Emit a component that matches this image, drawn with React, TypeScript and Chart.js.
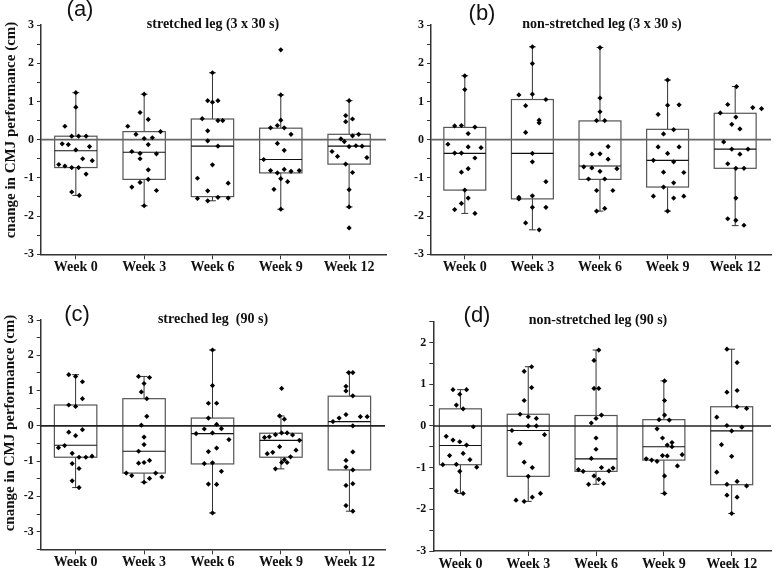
import React, { useEffect, useRef } from "react";
import { Chart, registerables } from "chart.js";
Chart.register(...registerables);

const WEEKS = ["Week 0", "Week 3", "Week 6", "Week 9", "Week 12"];
const Y_TITLE = "cnange in CMJ performance (cm)";

// box stats per week: [lower whisker, Q1, median, Q3, upper whisker]
const A_BOX = [
  [-1.46, -0.73, -0.29, 0.09, 1.23],
  [-1.73, -1.04, -0.33, 0.21, 1.19],
  [-1.6, -1.49, -0.17, 0.54, 1.75],
  [-1.82, -0.87, -0.52, 0.3, 1.17],
  [-1.76, -0.64, -0.17, 0.14, 1.02],
];
const B_BOX = [
  [-1.93, -1.32, -0.36, 0.32, 1.67],
  [-2.36, -1.55, -0.36, 1.05, 2.43],
  [-1.87, -1.04, -0.69, 0.49, 2.41],
  [-1.87, -1.24, -0.54, 0.27, 1.56],
  [-2.25, -0.75, -0.25, 0.69, 1.39],
];
const C_BOX = [
  [-1.75, -0.89, -0.55, 0.59, 1.45],
  [-1.6, -1.34, -0.72, 0.77, 1.4],
  [-2.47, -1.08, -0.22, 0.22, 2.15],
  [-1.22, -0.89, -0.41, -0.21, 0.28],
  [-2.42, -1.25, 0.12, 0.84, 1.51],
];
const D_BOX = [
  [-1.62, -0.93, -0.47, 0.41, 0.87],
  [-1.81, -1.21, -0.11, 0.28, 1.42],
  [-1.4, -1.09, -0.79, 0.25, 1.82],
  [-1.62, -0.82, -0.5, 0.15, 1.08],
  [-2.1, -1.41, -0.12, 0.46, 1.84],
];

// individual points: [horizontal jitter (category units), change (cm)]
const A_W0 = [[0,1.23],[0,0.85],[-0.16,0.35],[-0.06,0.09],[0.04,0.09],[0.15,0.09],[-0.2,-0.11],[-0.11,-0.13],[0,-0.27],[0.2,-0.18],[0.24,-0.55],[0.1,-0.5],[-0.25,-0.65],[-0.16,-0.69],[-0.06,-0.73],[0.04,-0.73],[0.15,-0.9],[-0.06,-1.37],[0.05,-1.46]];
const A_W3 = [[0,1.19],[-0.06,0.71],[0.06,0.53],[-0.24,0.35],[-0.12,0.14],[0.24,0.21],[0,0.03],[0.12,0.05],[0.06,-0.13],[-0.18,-0.31],[-0.06,-0.36],[0.18,-0.37],[-0.06,-0.5],[0.06,-0.79],[0.06,-1.04],[-0.06,-1.12],[-0.18,-1.24],[0.18,-1.33],[0,-1.73]];
const A_W6 = [[0,1.75],[-0.07,1.02],[0.08,1.02],[0,0.98],[-0.15,0.55],[0.08,0.5],[0.15,0.5],[-0.07,0.23],[-0.07,-0.03],[0.08,-0.17],[0,-0.66],[-0.22,-1.01],[0.23,-1.14],[-0.07,-1.34],[-0.22,-1.54],[-0.07,-1.6],[0.08,-1.51],[0.23,-1.53]];
const A_W9 = [[0,2.35],[0,1.17],[0,0.51],[-0.15,0.31],[-0.05,0.37],[0.05,0.31],[0.15,0.14],[-0.05,-0.1],[0.05,-0.28],[-0.25,-0.52],[-0.15,-0.81],[-0.05,-0.87],[0.05,-0.78],[0.15,-0.83],[0.27,-0.81],[0,-1.02],[0.1,-1.1],[-0.1,-1.3],[0,-1.82]];
const A_W12 = [[0,1.02],[-0.05,0.63],[0.05,0.54],[-0.05,0.47],[0.14,0.14],[-0.12,0.02],[-0.07,-0.05],[0.05,0.1],[0,-0.18],[0.1,-0.16],[0.19,-0.17],[-0.25,-0.31],[-0.17,-0.44],[0.26,-0.47],[-0.05,-0.64],[0.05,-0.86],[0,-1.31],[0,-1.76],[0,-2.31]];

const B_W0 = [[0,1.67],[0,1.31],[-0.15,0.36],[-0.05,0.37],[0.15,0.33],[0.05,0.16],[-0.25,-0.12],[0.05,-0.19],[0.24,-0.21],[-0.15,-0.35],[-0.05,-0.35],[0.15,-0.48],[0.05,-0.76],[-0.05,-0.85],[0,-1.32],[0.05,-1.53],[-0.05,-1.67],[-0.15,-1.83],[0.15,-1.93]];
const B_W3 = [[0,2.43],[0,1.99],[-0.2,1.17],[0,1.19],[0.2,1.05],[-0.1,0.89],[0.1,0.51],[0.1,0.44],[-0.1,0.19],[0,-0.36],[0,-0.58],[0.2,-1.1],[-0.2,-1.51],[-0.2,-1.55],[0,-1.47],[0,-1.77],[0.2,-1.77],[-0.1,-2.18],[0.1,-2.36]];
const B_W6 = [[0,2.41],[0,1.09],[0,0.73],[-0.05,0.5],[0.07,0.5],[0.12,-0.18],[-0.12,-0.38],[0,-0.37],[0.12,-0.51],[-0.24,-0.71],[-0.12,-0.74],[0.25,-0.76],[0,-0.83],[-0.17,-1.03],[0.07,-1.03],[-0.05,-1.33],[0.19,-1.33],[0.07,-1.8],[-0.05,-1.87]];
const B_W9 = [[0,1.56],[-0.14,0.66],[0,0.9],[0.17,0.91],[0.09,0.26],[-0.06,0.15],[-0.14,-0.19],[0.17,-0.19],[0,-0.36],[-0.21,-0.54],[0.09,-0.58],[-0.06,-0.85],[0.24,-0.86],[0.09,-1.13],[-0.06,-1.24],[-0.21,-1.48],[0.09,-1.53],[0.24,-1.48],[0,-1.87]];
const B_W12 = [[0.02,1.39],[-0.11,0.92],[0.26,0.84],[0.39,0.81],[-0.22,0.7],[0.01,0.59],[-0.05,0.4],[0.07,0.28],[-0.17,-0.06],[-0.05,-0.25],[0.19,-0.25],[0.07,-0.38],[-0.11,-0.63],[0.01,-0.75],[0.13,-0.75],[0.01,-1.53],[-0.11,-2.07],[0.01,-2.11],[0.13,-2.24]];

const C_W0 = [[-0.1,1.45],[0,1.4],[0.1,1.25],[0.1,0.77],[-0.1,0.59],[0,0.55],[0.1,-0.11],[-0.1,-0.18],[0,-0.28],[-0.25,-0.62],[-0.16,-0.56],[-0.05,-0.78],[0.05,-0.89],[0.15,-0.89],[0.24,-0.86],[-0.05,-1.07],[0.05,-1.21],[-0.05,-1.56],[0.05,-1.75]];
const C_W3 = [[-0.08,1.4],[0.08,1.37],[0,1.2],[-0.04,0.96],[0.04,0.77],[0.04,0.27],[-0.04,0.02],[0,-0.32],[0,-0.53],[-0.08,-0.72],[0.08,-0.98],[0,-1.04],[-0.08,-1.06],[-0.26,-1.34],[-0.18,-1.41],[0.17,-1.34],[0.08,-1.49],[0.26,-1.45],[0,-1.6]];
const C_W6 = [[0,2.15],[0,1.14],[-0.06,0.64],[0.06,0.64],[-0.06,0.22],[0.06,0.04],[0.13,-0.08],[-0.12,-0.09],[-0.24,-0.22],[0,-0.2],[0.24,-0.39],[0.06,-0.63],[-0.06,-0.73],[-0.12,-1.07],[0,-1.05],[0.13,-1.29],[-0.06,-1.65],[0.06,-1.66],[0,-2.47]];
const C_W9 = [[0.01,1.06],[-0.02,0.28],[0.05,0.19],[-0.24,-0.33],[-0.17,-0.31],[-0.08,-0.25],[0.01,-0.2],[0.09,-0.2],[0.17,-0.26],[0.27,-0.41],[-0.02,-0.59],[-0.2,-0.79],[-0.12,-0.75],[0.22,-0.69],[0.14,-0.88],[0.01,-1.04],[-0.08,-1.22],[0.05,-0.96],[0.09,-1.04]];
const C_W12 = [[-0.01,1.51],[0.05,1.51],[-0.05,1.12],[-0.05,0.99],[0.05,0.85],[-0.05,0.32],[-0.15,0.22],[-0.24,0.12],[0.16,0.26],[0.26,0.26],[0.05,0],[0.05,-0.74],[-0.05,-0.98],[-0.05,-1.17],[0.05,-1.25],[-0.05,-1.69],[0.05,-1.64],[-0.05,-2.26],[0.05,-2.42]];

const D_W0 = [[-0.11,0.87],[0.09,0.87],[-0.01,0.76],[-0.06,0.5],[0.04,0.41],[0.19,-0.02],[-0.21,-0.25],[-0.11,-0.34],[-0.01,-0.38],[0.09,-0.46],[-0.16,-0.71],[0.04,-0.66],[0.14,-0.81],[-0.26,-0.93],[-0.06,-0.92],[0.24,-0.99],[-0.01,-1.09],[-0.06,-1.56],[0.04,-1.62]];
const D_W3 = [[0.05,1.42],[-0.06,1.31],[0.05,0.92],[-0.06,0.61],[-0.12,0.28],[0,0.22],[0.12,0.18],[0,0],[0.12,0],[-0.24,-0.11],[0.24,-0.21],[-0.12,-0.42],[-0.06,-0.87],[0.06,-1.0],[0,-1.21],[0.18,-1.62],[0.06,-1.71],[-0.18,-1.78],[-0.06,-1.81]];
const D_W6 = [[0.04,1.82],[-0.03,1.57],[-0.03,0.9],[0.04,0.9],[0.08,0.26],[0,0.18],[-0.07,0.07],[0,-0.29],[0,-0.56],[-0.07,-0.78],[0.08,-1.0],[0.25,-1.01],[0.19,-1.08],[-0.26,-1.05],[-0.19,-1.09],[-0.03,-1.2],[0.04,-1.28],[-0.11,-1.4],[0.11,-1.38]];
const D_W9 = [[0.01,1.08],[0.01,0.61],[0.01,0.26],[-0.07,0.15],[0.08,0.14],[-0.1,-0.07],[-0.02,-0.29],[0.05,-0.46],[0.12,-0.4],[0.12,-0.5],[-0.02,-0.71],[0.05,-0.72],[0.27,-0.69],[-0.26,-0.79],[-0.18,-0.82],[-0.1,-0.85],[0.2,-0.96],[0.01,-1.2],[0.01,-1.62]];
const D_W12 = [[-0.07,1.84],[0.08,1.52],[-0.07,0.81],[0.08,0.85],[0.08,0.46],[0.22,0.42],[-0.22,0.21],[-0.07,0.01],[0,-0.12],[0.15,-0.03],[-0.15,-0.45],[0,-0.73],[-0.22,-1.11],[-0.07,-1.4],[0.08,-1.33],[0.22,-1.44],[-0.07,-1.66],[0.08,-1.71],[0,-2.1]];

const SERIF = "'Liberation Serif', 'Times New Roman', serif";
const SANS = "'Liberation Sans', Arial, sans-serif";

const boxPlugin = {
  id: "boxes",
  beforeDatasetsDraw(chart: any, _args: any, opts: any) {
    const { ctx } = chart;
    const xs = chart.scales.x;
    const ys = chart.scales.y;
    const boxes: number[][] = opts.boxes || [];
    ctx.save();
    boxes.forEach((b, i) => {
      const xl = xs.getPixelForValue(i - 0.31);
      const xr = xs.getPixelForValue(i + 0.31);
      const xc = xs.getPixelForValue(i);
      const cl = xs.getPixelForValue(i - 0.05);
      const cr = xs.getPixelForValue(i + 0.05);
      const [lo, q1, md, q3, hi] = b.map((v) => ys.getPixelForValue(v));
      ctx.lineWidth = 1;
      ctx.strokeStyle = "#333";
      ctx.beginPath();
      ctx.moveTo(xc, q3); ctx.lineTo(xc, hi);
      ctx.moveTo(xc, q1); ctx.lineTo(xc, lo);
      ctx.moveTo(cl, hi); ctx.lineTo(cr, hi);
      ctx.moveTo(cl, lo); ctx.lineTo(cr, lo);
      ctx.stroke();
      ctx.strokeStyle = "#555";
      ctx.lineWidth = 1.2;
      ctx.strokeRect(xl, q3, xr - xl, q1 - q3);
      ctx.strokeStyle = "#111";
      ctx.lineWidth = 1.2;
      ctx.beginPath();
      ctx.moveTo(xl, md); ctx.lineTo(xr, md);
      ctx.stroke();
    });
    ctx.restore();
  },
};

type PanelProps = {
  left: number; top: number; width: number; height: number;
  area: { l: number; t: number; r: number; b: number };
  xr: [number, number]; yr: [number, number];
  boxes: number[][]; points: number[][][]; zeroColor: string;
};

function Panel(p: PanelProps) {
  const ref = useRef<HTMLCanvasElement>(null);
  useEffect(() => {
    const data = p.points.flatMap((pts, i) => pts.map(([dx, v]) => ({ x: i + dx, y: v })));
    const chart = new Chart(ref.current as HTMLCanvasElement, {
      type: "scatter",
      data: {
        datasets: [
          {
            type: "line",
            data: [{ x: p.xr[0], y: 0 }, { x: p.xr[1], y: 0 }],
            borderColor: p.zeroColor,
            borderWidth: 1.6,
            pointRadius: 0,
            order: 2,
          } as any,
          {
            data,
            pointStyle: "rectRot",
            pointRadius: 2.6,
            backgroundColor: "#000",
            borderColor: "#000",
            borderWidth: 0,
            order: 1,
          },
        ],
      },
      options: {
        animation: false,
        responsive: false,
        maintainAspectRatio: false,
        layout: { padding: { top: p.area.t - p.top, right: p.left + p.width - p.area.r, left: 0, bottom: 0 } },
        plugins: {
          legend: { display: false },
          tooltip: { enabled: false },
          boxes: { boxes: p.boxes },
        } as any,
        scales: {
          x: {
            type: "linear",
            min: p.xr[0],
            max: p.xr[1],
            afterBuildTicks: (s: any) => { s.ticks = [0, 1, 2, 3, 4].map((v) => ({ value: v })); },
            afterFit: (s: any) => { s.height = p.top + p.height - p.area.b; },
            ticks: {
              autoSkip: false,
              maxRotation: 0,
              padding: 0,
              color: "#111",
              font: { family: SERIF, size: 14, weight: "bold" },
              callback: (v: any) => WEEKS[Math.round(Number(v))] ?? "",
            },
            grid: { display: true, drawOnChartArea: false, drawTicks: true, tickLength: 5, color: "#333" },
            border: { display: true, color: "#333", width: 1.5 },
          },
          y: {
            type: "linear",
            min: p.yr[0],
            max: p.yr[1],
            afterFit: (s: any) => { s.width = p.area.l - p.left; },
            ticks: {
              stepSize: 0.5,
              padding: 3,
              color: "#111",
              font: { family: SERIF, size: 12, weight: "bold" },
              callback: (v: any) => (Number.isInteger(Number(v)) ? String(v) : ""),
            },
            grid: { display: true, drawOnChartArea: false, drawTicks: true, tickLength: 4, color: "#333" },
            border: { display: true, color: "#333", width: 1.5 },
          },
        },
      },
      plugins: [boxPlugin],
    } as any);
    return () => chart.destroy();
  }, []);
  return (
    <canvas
      ref={ref}
      width={p.width}
      height={p.height}
      style={{ position: "absolute", left: p.left, top: p.top, width: p.width, height: p.height }}
    />
  );
}

function Label({ x, y, text, font, size, bold, rotate }: any) {
  return (
    <div
      style={{
        position: "absolute",
        left: x,
        top: y,
        transform: `translate(-50%, -50%)${rotate ? " rotate(-90deg)" : ""}`,
        fontFamily: font,
        fontSize: size,
        fontWeight: bold ? "bold" : "normal",
        whiteSpace: "pre",
        lineHeight: 1,
        color: "#111",
      }}
    >
      {text}
    </div>
  );
}

export default function App() {
  return (
    <div style={{ position: "fixed", left: 0, top: 0, width: 775, height: 570, background: "#fff", overflow: "hidden" }}>
      <Panel left={0} top={0} width={390} height={285} area={{ l: 41, t: 25, r: 387, b: 254.3 }}
        xr={[-0.51, 4.54]} yr={[-3, 3]} boxes={A_BOX} points={[A_W0, A_W3, A_W6, A_W9, A_W12]} zeroColor="#666" />
      <Panel left={390} top={0} width={385} height={285} area={{ l: 431, t: 25, r: 775, b: 254.3 }}
        xr={[-0.5, 4.53]} yr={[-3, 3]} boxes={B_BOX} points={[B_W0, B_W3, B_W6, B_W9, B_W12]} zeroColor="#666" />
      <Panel left={0} top={290} width={390} height={280} area={{ l: 40.7, t: 320, r: 385, b: 549.3 }}
        xr={[-0.51, 4.52]} yr={[-3.5, 3]} boxes={C_BOX} points={[C_W0, C_W3, C_W6, C_W9, C_W12]} zeroColor="#222" />
      <Panel left={390} top={290} width={385} height={280} area={{ l: 433.3, t: 321.7, r: 775, b: 551 }}
        xr={[-0.4, 4.58]} yr={[-3, 2.5]} boxes={D_BOX} points={[D_W0, D_W3, D_W6, D_W9, D_W12]} zeroColor="#222" />

      <Label x={80} y={9} text="(a)" font={SANS} size={22} />
      <Label x={213} y={24} text="stretched leg (3 x 30 s)" font={SERIF} size={14} bold />
      <Label x={482} y={13} text="(b)" font={SANS} size={22} />
      <Label x={602} y={24} text="non-stretched leg (3 x 30 s)" font={SERIF} size={14} bold />
      <Label x={77} y={314} text="(c)" font={SANS} size={22} />
      <Label x={213} y={319} text="streched leg  (90 s)" font={SERIF} size={14} bold />
      <Label x={477} y={315} text="(d)" font={SANS} size={22} />
      <Label x={598} y={320} text="non-stretched leg (90 s)" font={SERIF} size={14} bold />
      <Label x={10} y={130} text={Y_TITLE} font={SERIF} size={15} bold rotate />
      <Label x={9} y={423} text={Y_TITLE} font={SERIF} size={15} bold rotate />
    </div>
  );
}
